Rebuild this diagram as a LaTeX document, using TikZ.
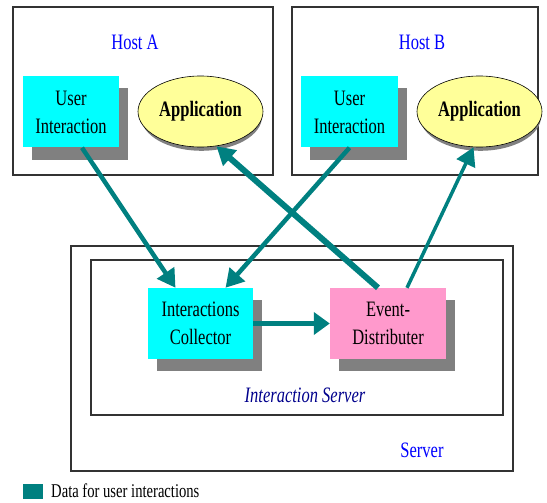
\documentclass[tikz,border=0pt]{standalone}
\usepackage{fontspec}
\setmainfont{Liberation Serif}[FakeStretch=0.75]
\usepackage{tikz}
\usetikzlibrary{shapes.geometric, shadows, arrows.meta, calc}
\definecolor{flowteal}{RGB}{0, 128, 128}
\definecolor{boxcyan}{RGB}{0, 255, 255}
\definecolor{boxpink}{RGB}{255, 153, 204}
\definecolor{appyellow}{RGB}{255, 255, 153}
\definecolor{shadowgray}{RGB}{128, 128, 128}
\definecolor{labelblue}{RGB}{0, 0, 255}
\definecolor{labelnavy}{RGB}{0, 0, 140}

\begin{document}
\begin{tikzpicture}[x=1pt, y=-1pt,
    frame/.style={draw=black!80, line width=1.2pt},
    hostlabel/.style={text=labelblue, font=\fontsize{22}{26}\selectfont},
    compbox/.style={rectangle, fill=#1, minimum width=100pt, minimum height=71pt, inner sep=0pt,
        align=center, font=\fontsize{22}{28}\selectfont,
        drop shadow={shadow xshift=9pt, shadow yshift=-12pt, fill=shadowgray, opacity=1}},
    appnode/.style={ellipse, draw=black, line width=0.6pt, fill=appyellow, minimum width=125pt,
        minimum height=71pt, inner sep=0pt, font=\bfseries\fontsize{22}{26}\selectfont,
        drop shadow={shadow xshift=1pt, shadow yshift=-5pt, shadow scale=0.97, fill=shadowgray, opacity=1}},
    dataflow/.style={draw=flowteal, line width=4.5pt, -{Triangle[length=18pt,width=20pt]}}]
    \useasboundingbox (0,0) rectangle (547,503);

    % Host A
    \draw[frame] (13,7) rectangle (273,175);
    \node[hostlabel] (hosta) at (135,42) {Host A};
    \node[compbox=boxcyan, minimum width=96pt] (uia) at (71,112) {User\\Interaction};
    \node[appnode] (appa) at (200.5,111.5) {Application};

    % Host B
    \draw[frame] (292,7) rectangle (538,175);
    \node[hostlabel] (hostb) at (422,42) {Host B};
    \node[compbox=boxcyan, minimum width=97pt] (uib) at (349.5,112) {User\\Interaction};
    \node[appnode] (appb) at (479.5,111.5) {Application};

    % Server
    \draw[frame] (71,246) rectangle (513,471);
    \draw[frame] (91,260) rectangle (503,415);
    \node[text=labelnavy, font=\itshape\fontsize{22}{26}\selectfont] (islabel) at (305,395) {Interaction Server};
    \node[hostlabel] (serverlabel) at (422,450) {Server};
    \node[compbox=boxcyan, minimum width=105pt] (coll) at (200.5,323.5) {Interactions\\Collector};
    \node[compbox=boxpink, minimum width=116pt] (dist) at (388,323.5) {Event-\\Distributer};

    % Data flow
    \draw[dataflow] ($(uia.south)+(11,0)$) -- ($(coll.north)+(-25,0)$);
    \draw[dataflow] (uib.south) -- ($(coll.north)+(25,0)$);
    \draw[dataflow, line width=6pt] ($(dist.north)+(-10,0)$) -- ($(appa.south)+(16,-1)$);
    \draw[dataflow, line width=3.5pt] ($(dist.north)+(19,0)$) -- ($(appb.south)+(-6,0)$);
    \draw[dataflow, line width=5pt, -{Triangle[length=16pt,width=22pt]}] (coll.east) -- (dist.west);

    % Legend
    \node[fill=flowteal, minimum width=20pt, minimum height=15pt, inner sep=0pt] (key) at (33,491.5) {};
    \node[right, inner sep=0pt, font=\fontsize{19.5}{24}\selectfont] (keytext) at (51,491) {Data for user interactions};
\end{tikzpicture}
\end{document}
